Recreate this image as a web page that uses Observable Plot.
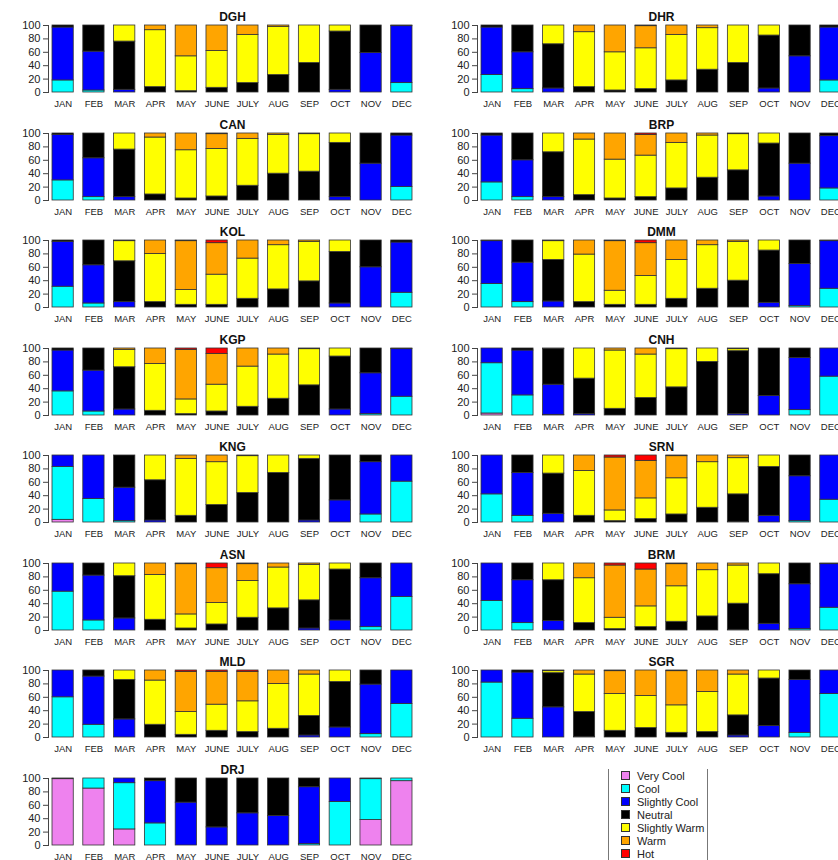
<!DOCTYPE html>
<html>
<head>
<meta charset="utf-8">
<script src="https://cdn.jsdelivr.net/npm/d3@7"></script>
<script src="https://cdn.jsdelivr.net/npm/@observablehq/plot@0.6"></script>
<style>
  html, body { margin: 0; padding: 0; background: #fff; }
  #chart { position: relative; width: 838px; height: 860px; overflow: hidden; background: #fff;
           font-family: "Liberation Sans", Arial, Helvetica, sans-serif; }
  .panel { position: absolute; width: 429px; height: 108px; }
  .panel svg { max-width: none !important; }
  .legend { position: absolute; border-left: 1px solid #777; border-right: 1px solid #777; box-sizing: border-box; }
  .legend .row { position: absolute; left: 0; height: 13px; display: flex; align-items: center; font-size: 11px; color: #222; white-space: nowrap; }
  .legend .sw { width: 7px; height: 7px; border: 1px solid #333; margin-left: 12px; margin-right: 7px; }
</style>
</head>
<body>
<div id="chart"></div>
<script>
const months = ["JAN","FEB","MAR","APR","MAY","JUNE","JULY","AUG","SEP","OCT","NOV","DEC"];
const categories = ["Very Cool","Cool","Slightly Cool","Neutral","Slightly Warm","Warm","Hot"];
const palette = ["#EE82EE","#00FFFF","#0000FF","#000000","#FFFF00","#FFA500","#FF0000"];
const leftStations = ["DGH","CAN","KOL","KGP","KNG","ASN","MLD","DRJ"];
const rightStations = ["DHR","BRP","DMM","CNH","SRN","BRM","SGR"];

// each row: one month, values (%) for [Very Cool, Cool, Slightly Cool, Neutral, Slightly Warm, Warm, Hot]
const DGH = [[0,18,79,3,0,0,0],[0,3,58,39,0,0,0],[0,0,4,72,24,0,0],[0,0,0,8,85,7,0],[0,0,0,2,52,46,0],[0,0,0,7,55,38,0],[0,0,0,14,72,14,0],[0,0,0,26,72,2,0],[0,0,0,44,56,0,0],[0,0,4,87,9,0,0],[0,0,59,41,0,0,0],[0,14,85,1,0,0,0]];
const DHR = [[0,26,71,3,0,0,0],[0,5,55,40,0,0,0],[0,0,6,66,28,0,0],[0,0,0,8,82,10,0],[0,0,0,3,57,40,0],[0,0,0,5,61,33,1],[0,0,0,18,68,14,0],[0,0,0,34,62,4,0],[0,0,0,44,56,0,0],[0,0,6,79,15,0,0],[0,0,54,46,0,0,0],[0,18,79,3,0,0,0]];
const CAN = [[0,30,68,2,0,0,0],[0,5,58,37,0,0,0],[0,0,5,71,24,0,0],[0,0,0,9,85,6,0],[0,0,0,3,72,25,0],[0,0,0,6,71,22,1],[0,0,0,22,70,8,0],[0,0,0,40,58,2,0],[0,0,0,43,56,1,0],[0,0,5,81,14,0,0],[0,0,55,45,0,0,0],[0,20,77,3,0,0,0]];
const BRP = [[0,27,70,3,0,0,0],[0,5,55,40,0,0,0],[0,0,5,67,28,0,0],[0,0,0,8,83,9,0],[0,0,0,3,58,39,0],[0,0,0,5,62,31,2],[0,0,0,18,68,14,0],[0,0,0,34,63,3,0],[0,0,0,45,54,1,0],[0,0,6,79,15,0,0],[0,0,55,45,0,0,0],[0,18,78,4,0,0,0]];
const KOL = [[0,31,67,2,0,0,0],[0,6,57,37,0,0,0],[0,0,8,61,30,1,0],[0,0,0,8,72,20,0],[0,0,0,4,22,73,1],[0,0,0,4,45,47,4],[0,0,0,13,60,27,0],[0,0,0,27,66,7,0],[0,0,0,39,59,2,0],[0,0,6,77,17,0,0],[0,0,60,40,0,0,0],[0,22,75,3,0,0,0]];
const DMM = [[0,35,64,1,0,0,0],[0,8,59,33,0,0,0],[0,0,9,62,28,1,0],[0,0,0,8,71,21,0],[0,0,0,4,21,74,1],[0,0,0,4,43,49,4],[0,0,0,13,58,29,0],[0,0,0,28,65,7,0],[0,0,0,40,58,2,0],[0,0,7,78,15,0,0],[0,2,63,35,0,0,0],[0,28,71,1,0,0,0]];
const KGP = [[0,36,61,3,0,0,0],[0,6,61,33,0,0,0],[0,0,9,63,26,2,0],[0,0,0,7,70,23,0],[0,0,0,2,22,74,2],[0,0,0,6,40,46,8],[0,0,0,13,60,27,0],[0,0,0,25,66,9,0],[0,0,0,45,54,1,0],[0,0,9,79,12,0,0],[0,2,61,37,0,0,0],[0,28,71,1,0,0,0]];
const CNH = [[3,75,22,0,0,0,0],[0,30,67,3,0,0,0],[0,1,45,53,1,0,0],[0,0,2,53,45,0,0],[0,0,0,10,87,3,0],[0,0,0,26,65,9,0],[0,0,0,42,57,1,0],[0,0,0,80,20,0,0],[0,0,2,94,3,1,0],[0,0,29,71,0,0,0],[0,8,78,14,0,0,0],[0,58,42,0,0,0,0]];
const KNG = [[4,79,17,0,0,0,0],[0,35,65,0,0,0,0],[0,2,50,48,0,0,0],[0,0,3,60,37,0,0],[0,0,0,10,85,5,0],[0,0,0,26,64,10,0],[0,0,0,44,55,1,0],[0,0,0,74,26,0,0],[0,0,3,92,5,0,0],[0,0,33,67,0,0,0],[0,12,78,10,0,0,0],[0,61,39,0,0,0,0]];
const SRN = [[0,42,58,0,0,0,0],[0,10,64,26,0,0,0],[0,0,13,60,27,0,0],[0,0,0,10,67,23,0],[0,0,0,2,16,79,3],[0,0,0,5,31,56,8],[0,0,0,12,54,33,1],[0,0,0,22,68,10,0],[0,0,1,41,54,4,0],[0,0,10,73,17,0,0],[0,2,67,31,0,0,0],[0,34,66,0,0,0,0]];
const ASN = [[0,58,42,0,0,0,0],[0,15,67,18,0,0,0],[0,0,18,63,19,0,0],[0,0,0,16,67,17,0],[0,0,0,3,21,75,1],[0,0,0,9,32,52,7],[0,0,0,19,55,25,1],[0,0,0,33,61,6,0],[0,0,3,42,53,2,0],[0,0,15,76,9,0,0],[0,5,73,22,0,0,0],[0,50,50,0,0,0,0]];
const BRM = [[0,44,56,0,0,0,0],[0,11,64,25,0,0,0],[0,0,14,61,25,0,0],[0,0,0,11,67,22,0],[0,0,0,2,17,78,3],[0,0,0,5,31,55,9],[0,0,0,13,53,33,1],[0,0,0,21,69,10,0],[0,0,1,39,57,3,0],[0,0,10,74,16,0,0],[0,2,67,31,0,0,0],[0,34,65,1,0,0,0]];
const MLD = [[0,60,40,0,0,0,0],[0,19,72,9,0,0,0],[0,0,27,59,14,0,0],[0,0,0,19,66,15,0],[0,0,0,4,34,60,2],[0,0,0,10,39,49,2],[0,0,0,8,46,44,2],[0,0,0,13,67,20,0],[0,0,3,29,62,6,0],[0,0,15,68,17,0,0],[0,5,74,21,0,0,0],[0,50,50,0,0,0,0]];
const SGR = [[0,82,18,0,0,0,0],[0,28,69,3,0,0,0],[0,0,45,51,3,1,0],[0,0,1,37,56,6,0],[0,0,0,10,55,34,1],[0,0,0,14,48,38,0],[0,0,0,7,41,51,1],[0,0,0,8,60,32,0],[0,0,3,30,61,6,0],[0,0,17,71,12,0,0],[0,7,79,14,0,0,0],[0,65,35,0,0,0,0]];
const DRJ = [[99,1,0,0,0,0,0],[85,15,0,0,0,0,0],[24,69,7,0,0,0,0],[0,33,63,4,0,0,0],[0,0,64,36,0,0,0],[0,0,27,73,0,0,0],[0,0,48,52,0,0,0],[0,0,44,56,0,0,0],[0,2,85,13,0,0,0],[0,65,35,0,0,0,0],[38,61,1,0,0,0,0],[96,4,0,0,0,0,0]];

const stationData = {DGH, DHR, CAN, BRP, KOL, DMM, KGP, CNH, KNG, SRN, ASN, BRM, MLD, SGR, DRJ};

const chart = document.getElementById("chart");
const ROW_H = 107.5;
const COL_X = [0, 429];

function panel(name) {
  const rows = stationData[name].flatMap((vals, i) =>
    vals.map((v, j) => ({month: months[i], cat: categories[j], value: v}))
  ).filter(d => d.value > 0);
  return Plot.plot({
    width: 429,
    height: 108,
    marginTop: 25,
    marginBottom: 16,
    marginLeft: 48,
    marginRight: 13,
    style: {fontFamily: "'Liberation Sans', Arial, Helvetica, sans-serif", fontSize: "9px", color: "#222", background: "transparent", overflow: "visible", maxWidth: "none"},
    x: {domain: months, paddingInner: 0.31, paddingOuter: 0.13, round: false, axis: null},
    y: {domain: [0, 100], axis: null},
    color: {domain: categories, range: palette},
    marks: [
      Plot.barY(rows, {x: "month", y: "value", fill: "cat", order: categories, stroke: "#333", strokeWidth: 0.8}),
      Plot.frame({anchor: "left", stroke: "#444"}),
      Plot.axisY({ticks: [0, 20, 40, 60, 80, 100], tickSize: 5, tickPadding: 3, fontSize: 11, stroke: "#444", fill: "#222", label: null}),
      Plot.axisX({tickSize: 0, tickPadding: 7.5, fontSize: 9.5, fill: "#222", label: null}),
      Plot.text([name], {frameAnchor: "top", lineAnchor: "middle", dy: -8, text: d => d, fontWeight: "bold", fontSize: 12, fill: "#111"})
    ]
  });
}

function place(node, left, top) {
  const wrap = document.createElement("div");
  wrap.className = "panel";
  wrap.style.left = left + "px";
  wrap.style.top = top + "px";
  wrap.appendChild(node);
  chart.appendChild(wrap);
}

leftStations.forEach((s, r) => place(panel(s), COL_X[0], r * ROW_H));
rightStations.forEach((s, r) => place(panel(s), COL_X[1], r * ROW_H));

// legend
const legend = document.createElement("div");
legend.className = "legend";
legend.style.left = "608px";
legend.style.top = "769px";
legend.style.width = "100px";
legend.style.height = "100px";
categories.forEach((c, i) => {
  const row = document.createElement("div");
  row.className = "row";
  row.style.top = (i * 13) + "px";
  const sw = document.createElement("span");
  sw.className = "sw";
  sw.style.background = palette[i];
  row.appendChild(sw);
  row.appendChild(document.createTextNode(c));
  legend.appendChild(row);
});
chart.appendChild(legend);
</script>
</body>
</html>
